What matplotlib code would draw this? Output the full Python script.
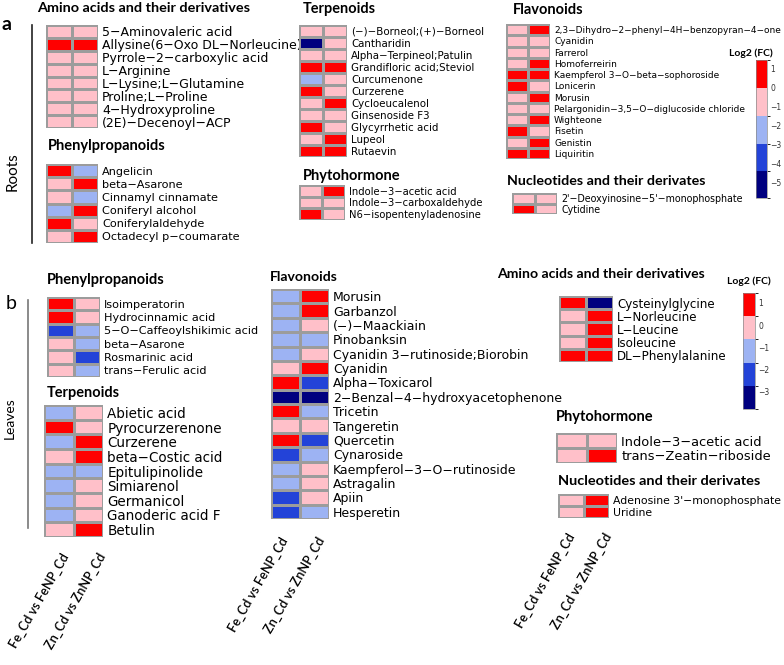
import numpy as np
import matplotlib
matplotlib.use("Agg")
import matplotlib.pyplot as plt
from matplotlib.colors import ListedColormap, BoundaryNorm
from matplotlib.font_manager import FontProperties
from matplotlib.textpath import TextPath
from matplotlib.cm import ScalarMappable
from matplotlib.lines import Line2D

W, H, DPI = 784, 665, 100

# ---------- data: log2 (FC), estimated from the colour classes ----------
# roots
root_amino = ["5−Aminovaleric acid", "Allysine(6−Oxo DL−Norleucine)", "Pyrrole−2−carboxylic acid",
              "L−Arginine", "L−Lysine;L−Glutamine", "Proline;L−Proline", "4−Hydroxyproline",
              "(2E)−Decenoyl−ACP"]
root_amino_fe = [-0.7, 1.0, -0.7, -0.7, -0.7, -0.7, -0.7, -0.7]
root_amino_zn = [-0.7, 1.0, -0.7, -0.7, -0.7, -0.7, -0.7, -0.7]

root_phenyl = ["Angelicin", "beta−Asarone", "Cinnamyl cinnamate", "Coniferyl alcohol",
               "Coniferylaldehyde", "Octadecyl p−coumarate"]
root_phenyl_fe = [1.0, -0.7, -0.7, -2.2, 1.0, -0.7]
root_phenyl_zn = [-2.2, 1.0, -2.2, 1.0, -0.7, 1.0]

root_terp = ["(−)−Borneol;(+)−Borneol", "Cantharidin", "Alpha−Terpineol;Patulin",
             "Grandifloric acid;Steviol", "Curcumenone", "Curzerene", "Cycloeucalenol",
             "Ginsenoside F3", "Glycyrrhetic acid", "Lupeol", "Rutaevin"]
root_terp_fe = [-0.7, -5.0, -0.7, 1.0, -2.2, 1.0, -0.7, -0.7, 1.0, -0.7, 1.0]
root_terp_zn = [-0.7, -0.7, -0.7, 1.0, -0.7, -0.7, 1.0, -0.7, -0.7, 1.0, 1.0]

root_phyto = ["Indole−3−acetic acid", "Indole−3−carboxaldehyde", "N6−isopentenyladenosine"]
root_phyto_fe = [-0.7, -0.7, 1.0]
root_phyto_zn = [1.0, -0.7, -0.7]

root_flav = ["2,3−Dihydro−2−phenyl−4H−benzopyran−4−one", "Cyanidin", "Farrerol", "Homoferreirin",
             "Kaempferol 3−O−beta−sophoroside", "Lonicerin", "Morusin",
             "Pelargonidin−3,5−O−diglucoside chloride", "Wighteone", "Fisetin", "Genistin",
             "Liquiritin"]
root_flav_fe = [-0.7, -0.7, -0.7, -0.7, 1.0, 1.0, -0.7, -0.7, -0.7, 1.0, -0.7, 1.0]
root_flav_zn = [1.0, -0.7, -0.7, 1.0, 1.0, -0.7, 1.0, -0.7, 1.0, -0.7, 1.0, 1.0]

root_nucl = ["2'−Deoxyinosine−5'−monophosphate", "Cytidine"]
root_nucl_fe = [-0.7, 1.0]
root_nucl_zn = [-0.7, -0.7]

# leaves
leaf_phenyl = ["Isoimperatorin", "Hydrocinnamic acid", "5−O−Caffeoylshikimic acid",
               "beta−Asarone", "Rosmarinic acid", "trans−Ferulic acid"]
leaf_phenyl_fe = [1.0, 1.0, -2.2, 0.0, 0.0, 0.0]
leaf_phenyl_zn = [0.0, 0.0, -1.1, -1.1, -2.2, -1.1]

leaf_terp = ["Abietic acid", "Pyrocurzerenone", "Curzerene", "beta−Costic acid",
             "Epitulipinolide", "Simiarenol", "Germanicol", "Ganoderic acid F", "Betulin"]
leaf_terp_fe = [-1.1, 1.0, -1.1, 0.0, -1.1, -1.1, -1.1, -1.1, 0.0]
leaf_terp_zn = [0.0, 0.0, 1.0, 1.0, -1.1, 0.0, 0.0, 0.0, 1.0]

leaf_flav = ["Morusin", "Garbanzol", "(−)−Maackiain", "Pinobanksin",
             "Cyanidin 3−rutinoside;Biorobin", "Cyanidin", "Alpha−Toxicarol",
             "2−Benzal−4−hydroxyacetophenone", "Tricetin", "Tangeretin", "Quercetin",
             "Cynaroside", "Kaempferol−3−O−rutinoside", "Astragalin", "Apiin", "Hesperetin"]
leaf_flav_fe = [-1.1, -1.1, -1.1, -1.1, -1.1, 0.0, 1.0, -3.3, 1.0, 0.0, 1.0, -2.2, -1.1, -1.1, -2.2, -2.2]
leaf_flav_zn = [1.0, 1.0, 0.0, -1.1, 0.0, 1.0, -2.2, -3.3, -1.1, 0.0, -2.2, -1.1, 0.0, 0.0, 0.0, -1.1]

leaf_amino = ["Cysteinylglycine", "L−Norleucine", "L−Leucine", "Isoleucine", "DL−Phenylalanine"]
leaf_amino_fe = [1.0, 0.0, 0.0, 0.0, 1.0]
leaf_amino_zn = [-3.3, 1.0, 1.0, 1.0, 1.0]

leaf_phyto = ["Indole−3−acetic acid", "trans−Zeatin−riboside"]
leaf_phyto_fe = [0.0, 0.0]
leaf_phyto_zn = [0.0, 1.0]

leaf_nucl = ["Adenosine 3'−monophosphate", "Uridine"]
leaf_nucl_fe = [0.0, 0.0]
leaf_nucl_zn = [1.0, 1.0]

comparisons = ["Fe_Cd vs FeNP_Cd", "Zn_Cd vs ZnNP_Cd"]

root_bounds = [-5.8, -4.4, -2.93, -1.47, 0, 1.47]
root_ticks = [1, 0, -1, -2, -3, -4, -5]
leaf_bounds = [-3.77, -2.73, -1.68, -0.64, 0.41, 1.45]
leaf_ticks = [1, 0, -1, -2, -3]

colors = ["#00007f", "#2343d8", "#9db3f3", "#ffc0c9", "#ff0000"]
cmap = ListedColormap(colors)

TITLE_FONT = "Lato"
LABEL_FONT = "DejaVu Sans"


def rect(x, y, w, h):
    return [x / W, 1 - (y + h) / H, w / W, h / H]


def fit(text, px, family, weight="normal"):
    # font size (pt) so that text is px pixels wide
    tp = TextPath((0, 0), text, size=10, prop=FontProperties(family=family, weight=weight))
    return 10 * px / (tp.get_extents().width * DPI / 72)


fig = plt.figure(figsize=(W / DPI, H / DPI), dpi=DPI)


def heat(box, names, fe, zn, bounds, title, title_xy, title_px, ref, ref_px):
    ax = fig.add_axes(rect(*box))
    norm = BoundaryNorm(bounds, cmap.N)
    vals = np.column_stack([fe, zn])
    ax.pcolormesh(vals, cmap=cmap, norm=norm, edgecolors="#9c9c9c", linewidth=0.8)
    ax.set_xlim(0, 2)
    ax.set_ylim(len(names), 0)
    ax.set_xticks([])
    ax.yaxis.tick_right()
    ax.set_yticks(np.arange(len(names)) + 0.5)
    fs = fit(ref, ref_px, LABEL_FONT)
    ax.set_yticklabels(names, fontsize=fs, family=LABEL_FONT)
    ax.tick_params(axis="y", length=0, pad=3)
    for s in ax.spines.values():
        s.set_visible(False)
    tfs = min(fit(title, title_px, TITLE_FONT, "bold"), 10.5)
    fig.text(title_xy[0] / W, 1 - title_xy[1] / H, title, fontsize=tfs,
             family=TITLE_FONT, weight="bold", ha="left", va="center")


def cbar(box, bounds, ticks, title_xy):
    cax = fig.add_axes(rect(*box))
    sm = ScalarMappable(norm=BoundaryNorm(bounds, cmap.N), cmap=cmap)
    cb = fig.colorbar(sm, cax=cax, ticks=ticks, spacing="proportional")
    cb.outline.set_edgecolor("#8a8a8a")
    cb.outline.set_linewidth(0.5)
    cax.tick_params(length=0, labelsize=5.5, pad=2.5, colors="#333333")
    fig.text(title_xy[0] / W, 1 - title_xy[1] / H, "Log2 (FC)", fontsize=7.5,
             family=TITLE_FONT, weight="bold", ha="center", va="center")


# ---------- a: roots ----------
heat((46, 25, 52, 103), root_amino, root_amino_fe, root_amino_zn, root_bounds,
     "Amino acids and their derivatives", (37, 8), 213, root_amino[0], 128)
heat((46, 164, 52, 79), root_phenyl, root_phenyl_fe, root_phenyl_zn, root_bounds,
     "Phenylpropanoids", (48, 146), 118, root_phenyl[5], 137)
heat((299, 25, 48, 132), root_terp, root_terp_fe, root_terp_zn, root_bounds,
     "Terpenoids", (303, 9), 72, root_terp[0], 131)
heat((299, 185, 46, 35), root_phyto, root_phyto_fe, root_phyto_zn, root_bounds,
     "Phytohormone", (303, 176), 96, root_phyto[1], 132)
heat((506, 24, 44, 135), root_flav, root_flav_fe, root_flav_zn, root_bounds,
     "Flavonoids", (513, 10), 69, root_flav[0], 226)
heat((512, 193, 45, 21), root_nucl, root_nucl_fe, root_nucl_zn, root_bounds,
     "Nucleotides and their derivates", (507, 181), 196, root_nucl[0], 182)
cbar((756, 60, 11, 138), root_bounds, root_ticks, (751, 53))

# ---------- b: leaves ----------
heat((47, 297, 53, 80), leaf_phenyl, leaf_phenyl_fe, leaf_phenyl_zn, leaf_bounds,
     "Phenylpropanoids", (47, 280), 117, leaf_phenyl[2], 152)
heat((44, 405, 59, 132), leaf_terp, leaf_terp_fe, leaf_terp_zn, leaf_bounds,
     "Terpenoids", (47, 393), 72, leaf_terp[1], 112)
heat((271, 289, 58, 230), leaf_flav, leaf_flav_fe, leaf_flav_zn, leaf_bounds,
     "Flavonoids", (270, 277), 66, leaf_flav[4], 193)
heat((559, 296, 54, 66), leaf_amino, leaf_amino_fe, leaf_amino_zn, leaf_bounds,
     "Amino acids and their derivatives", (497, 274), 206, leaf_amino[4], 108)
heat((556, 433, 61, 30), leaf_phyto, leaf_phyto_fe, leaf_phyto_zn, leaf_bounds,
     "Phytohormone", (556, 417), 97, leaf_phyto[1], 148)
heat((558, 494, 51, 24), leaf_nucl, leaf_nucl_fe, leaf_nucl_zn, leaf_bounds,
     "Nucleotides and their derivates", (558, 481), 200, leaf_nucl[0], 167)
cbar((743, 293, 12, 116), leaf_bounds, leaf_ticks, (749, 281))

# ---------- comparison labels under the leaves panels ----------
xlab_fs = fit(comparisons[0], 104, TITLE_FONT, "semibold")
for x0, y0 in [(71, 551), (290, 535), (577, 531)]:
    for k, lab in enumerate(comparisons):
        fig.text((x0 + 37 * k) / W, 1 - y0 / H, lab, fontsize=xlab_fs, family=TITLE_FONT,
                 weight="semibold", rotation=60, ha="right", va="top")

# ---------- panel letters, side lines, tissue names ----------
fig.text(6 / W, 1 - 24 / H, "a", fontsize=14, family=TITLE_FONT, weight="bold", ha="center", va="center")
fig.text(11 / W, 1 - 303 / H, "b", fontsize=14, family=TITLE_FONT, ha="center", va="center")
fig.text(13 / W, 1 - 172 / H, "Roots", fontsize=11, family=TITLE_FONT, rotation=90, ha="center", va="center")
fig.text(10 / W, 1 - 418 / H, "Leaves", fontsize=10, family=TITLE_FONT, rotation=90, ha="center", va="center")
fig.add_artist(Line2D([32 / W, 32 / W], [1 - 25 / H, 1 - 243 / H], color="#222222", lw=1.2))
fig.add_artist(Line2D([28 / W, 28 / W], [1 - 300 / H, 1 - 528 / H], color="#777777", lw=1.2))

fig.savefig("out.png", dpi=DPI)
